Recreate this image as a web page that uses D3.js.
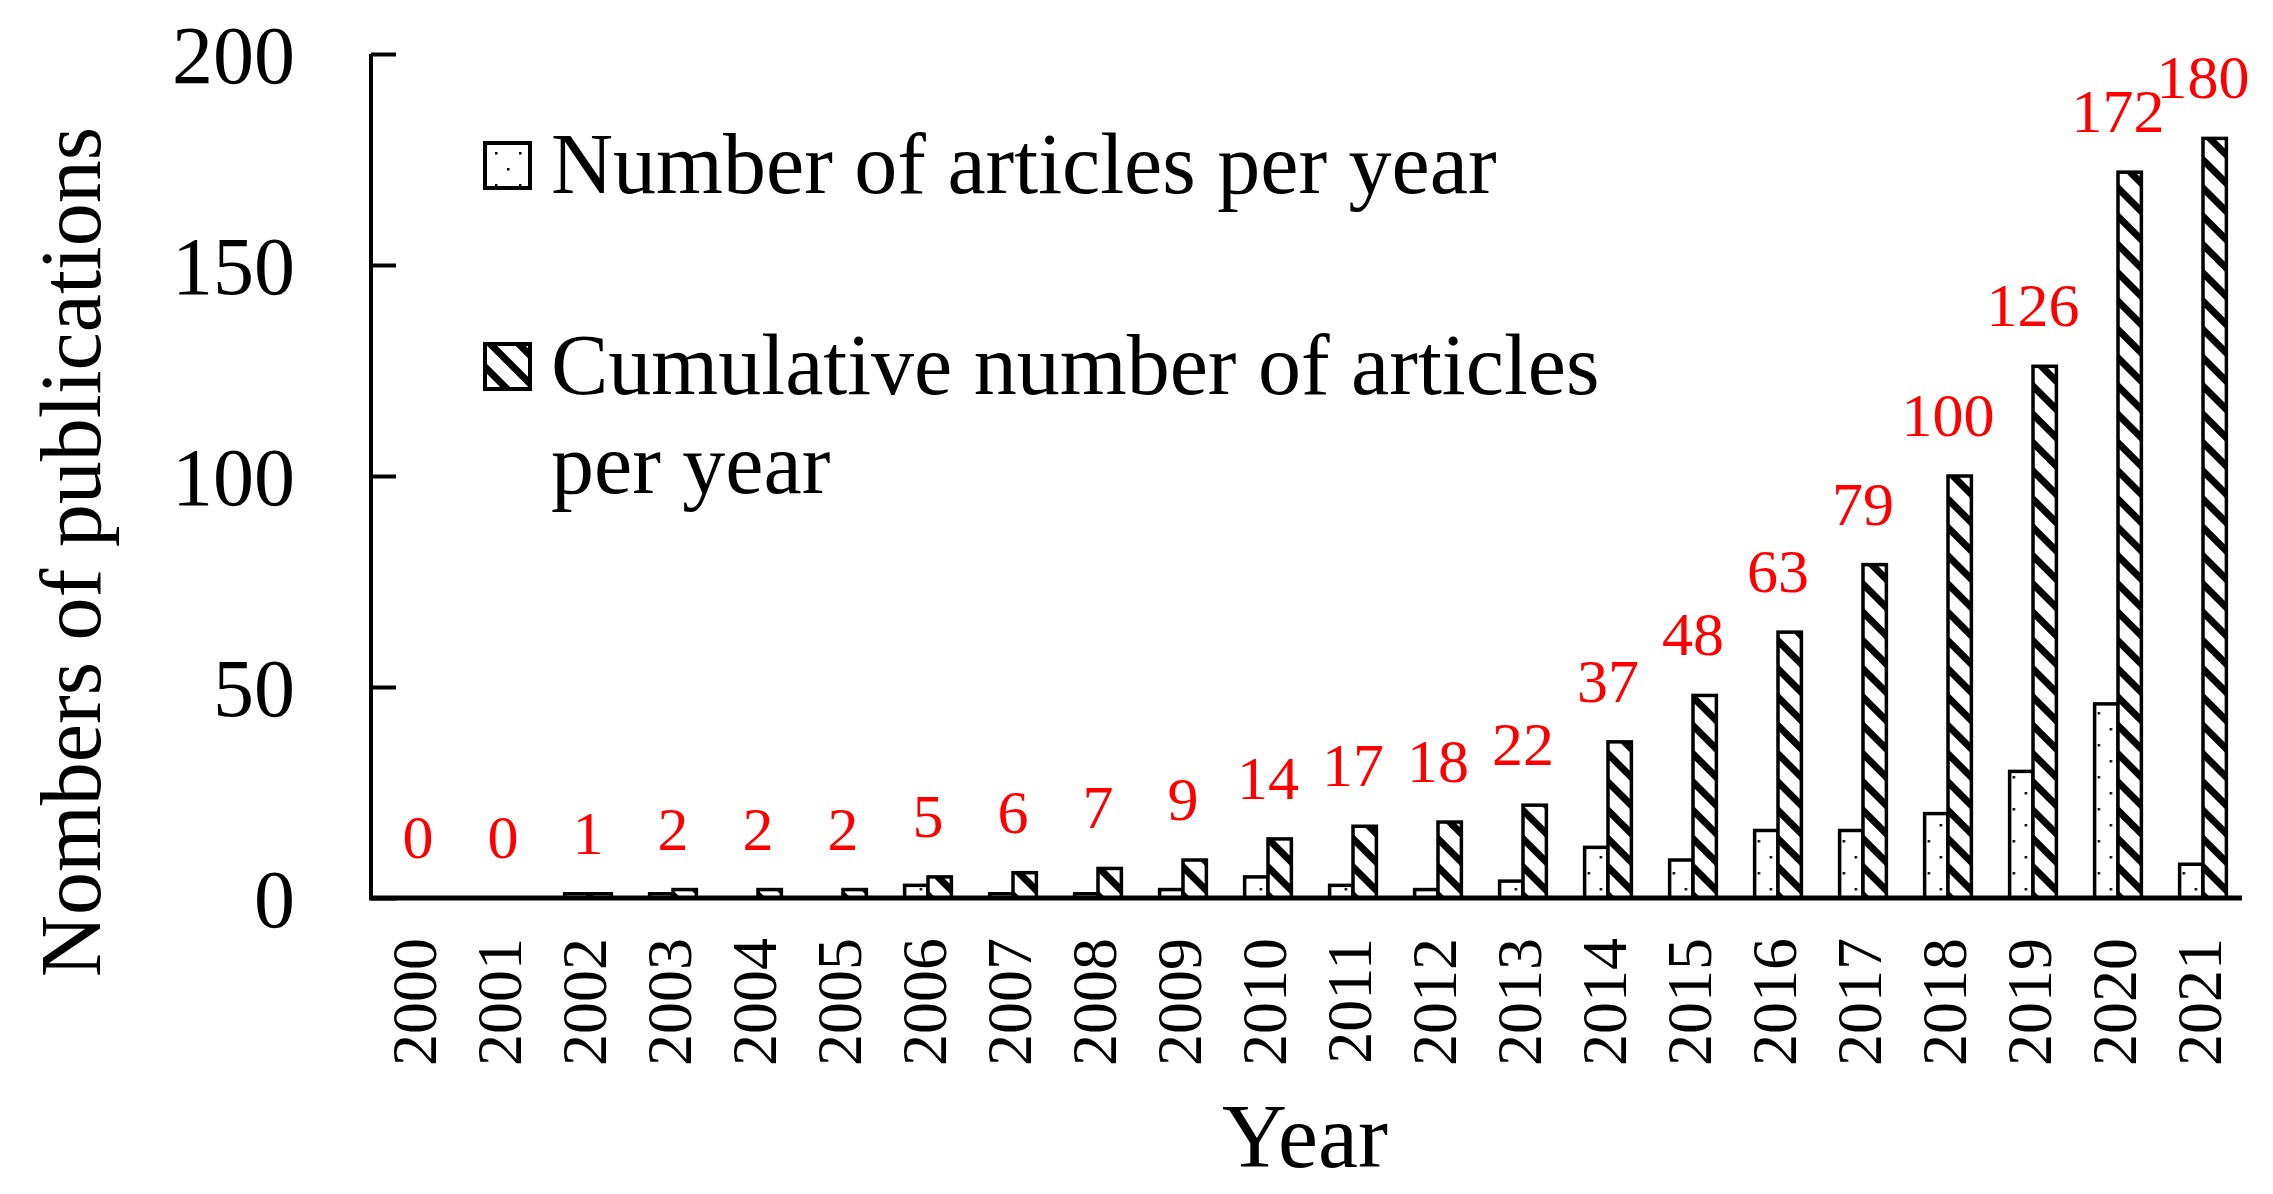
<!DOCTYPE html>
<html>
<head>
<meta charset="utf-8">
<script src="https://cdn.jsdelivr.net/npm/d3@7"></script>
<style>
  body { margin: 0; background: #fff; }
  text { font-family: "Liberation Serif", "Times New Roman", serif; }
</style>
</head>
<body>
<div id="chart"></div>
<script>
let years = ["2000", "2001", "2002", "2003", "2004", "2005", "2006", "2007", "2008", "2009", "2010",
             "2011", "2012", "2013", "2014", "2015", "2016", "2017", "2018", "2019", "2020", "2021"];
let perYear = [0, 0, 1, 1, 0, 0, 3, 1, 1, 2, 5, 3, 2, 4, 12, 9, 16, 16, 20, 30, 46, 8];
let cumulative = [0, 0, 1, 2, 2, 2, 5, 6, 7, 9, 14, 17, 18, 22, 37, 48, 63, 79, 100, 126, 172, 180];
let yTicks = [0, 50, 100, 150, 200];
let seriesNames = ["Number of articles per year", "Cumulative number of articles per year"];

let width = 2273,
    height = 1194;

let svg = d3.select("#chart").append("svg")
    .attr("width", width)
    .attr("height", height)
    .style("background", "#fff");

// patterns
let defs = svg.append("defs");

let hatch = defs.append("pattern")
    .attr("id", "hatch")
    .attr("patternUnits", "userSpaceOnUse")
    .attr("width", 20)
    .attr("height", 20)
    .attr("patternTransform", "rotate(-45)");
hatch.append("rect").attr("width", 20).attr("height", 20).attr("fill", "#fff");
hatch.append("rect").attr("width", 7).attr("height", 20).attr("fill", "#000");

let dots = defs.append("pattern")
    .attr("id", "dots")
    .attr("patternUnits", "userSpaceOnUse")
    .attr("width", 24)
    .attr("height", 32);
dots.append("rect").attr("width", 24).attr("height", 32).attr("fill", "#fff");
dots.append("rect").attr("x", 3).attr("y", 8).attr("width", 2.5).attr("height", 2.5).attr("fill", "#000");
dots.append("rect").attr("x", 15).attr("y", 24).attr("width", 2.5).attr("height", 2.5).attr("fill", "#000");

let fills = ["url(#dots)", "url(#hatch)"];

let x0 = d3.scaleBand()
    .domain(years)
    .range([375.5, 2245.5])
    .paddingInner(0.45)
    .paddingOuter(0.225);

let x1 = d3.scaleBand()
    .domain([0, 1])
    .range([0, x0.bandwidth()]);

let y = d3.scaleLinear()
    .domain([0, 200])
    .range([898, 54]);

let data = years.map((yr, i) => ({ year: yr, values: [perYear[i], cumulative[i]] }));

// bars
let groups = svg.selectAll(".year")
    .data(data)
    .enter()
    .append("g")
    .attr("class", "year")
    .attr("transform", d => "translate(" + x0(d.year) + ",0)");

groups.selectAll("rect")
    .data(d => d.values.map((v, k) => ({ k: k, v: v })).filter(e => e.v > 0))
    .enter()
    .append("rect")
    .attr("x", e => x1(e.k))
    .attr("width", x1.bandwidth())
    .attr("y", e => y(e.v))
    .attr("height", e => y(0) - y(e.v))
    .attr("fill", e => fills[e.k])
    .attr("stroke", "#000")
    .attr("stroke-width", 3.5);

// red value labels above cumulative bars
svg.selectAll(".val")
    .data(data)
    .enter()
    .append("text")
    .attr("class", "val")
    .attr("x", d => x0(d.year) + x0.bandwidth() / 2)
    .attr("y", d => y(d.values[1]) - 40)
    .attr("text-anchor", "middle")
    .attr("fill", "#ff0000")
    .style("font-size", "62px")
    .text(d => d.values[1]);

// y axis
let yAxis = d3.axisLeft(y)
    .tickValues(yTicks)
    .tickSize(-25)
    .tickPadding(0);

let gy = svg.append("g")
    .attr("transform", "translate(371,0)")
    .call(yAxis);
gy.select(".domain").remove();
gy.selectAll(".tick line").attr("stroke", "#000").attr("stroke-width", 4);
gy.selectAll(".tick text")
    .attr("x", -76)
    .attr("dy", "0.35em")
    .attr("fill", "#000")
    .style("font-size", "82px")
    .style("font-family", "'Liberation Serif', serif");

svg.append("line")
    .attr("x1", 371).attr("x2", 371)
    .attr("y1", y(200)).attr("y2", y(0) + 2)
    .attr("stroke", "#000")
    .attr("stroke-width", 4);

// x axis
svg.append("line")
    .attr("x1", 369).attr("x2", 2242)
    .attr("y1", y(0)).attr("y2", y(0))
    .attr("stroke", "#000")
    .attr("stroke-width", 5);

svg.selectAll(".xlab")
    .data(years)
    .enter()
    .append("text")
    .attr("class", "xlab")
    .attr("transform", d => "translate(" + (x0(d) + x0.bandwidth() / 2) + ",938) rotate(-90)")
    .attr("text-anchor", "end")
    .attr("dy", "0.28em")
    .style("font-size", "64px")
    .text(d => d);

// axis titles
svg.append("text")
    .attr("transform", "translate(100,552) rotate(-90)")
    .attr("text-anchor", "middle")
    .style("font-size", "86px")
    .text("Nombers of publications");

svg.append("text")
    .attr("x", 1305)
    .attr("y", 1167)
    .attr("text-anchor", "middle")
    .style("font-size", "90px")
    .text("Year");

// legend
let legend = svg.append("g");
legend.append("rect")
    .attr("x", 485).attr("y", 143).attr("width", 45).attr("height", 45)
    .attr("fill", fills[0]).attr("stroke", "#000").attr("stroke-width", 4);
legend.append("rect")
    .attr("x", 485).attr("y", 344).attr("width", 45).attr("height", 45)
    .attr("fill", fills[1]).attr("stroke", "#000").attr("stroke-width", 4);

legend.append("text")
    .attr("x", 551).attr("y", 193)
    .style("font-size", "86px")
    .text(seriesNames[0]);

let lt = legend.append("text")
    .attr("x", 551).attr("y", 394)
    .style("font-size", "86px");
lt.append("tspan").attr("x", 551).text("Cumulative number of articles");
lt.append("tspan").attr("x", 551).attr("y", 493).text("per year");
</script>
</body>
</html>
